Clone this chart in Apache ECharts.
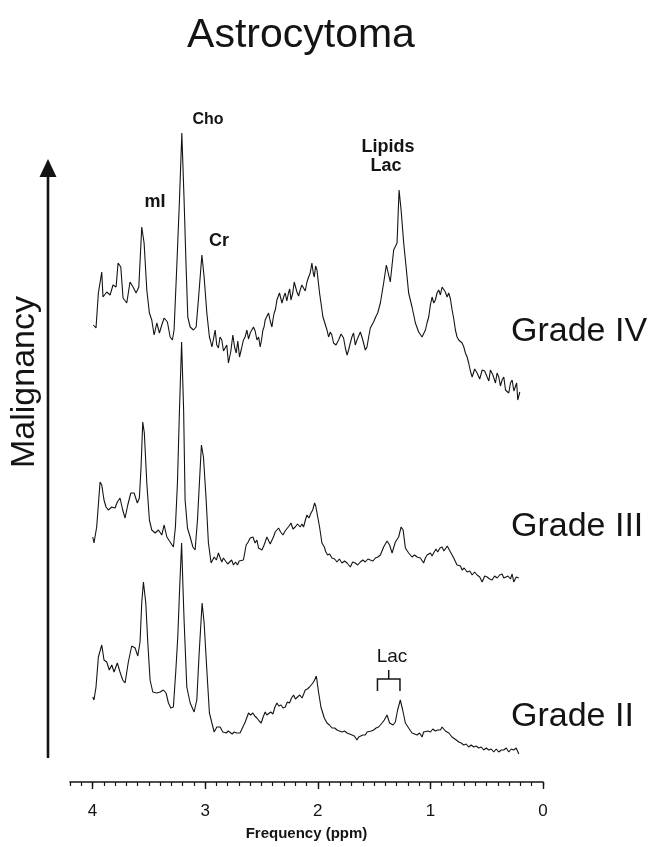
<!DOCTYPE html>
<html>
<head>
<meta charset="utf-8">
<script src="https://cdn.jsdelivr.net/npm/echarts@6/dist/echarts.min.js"></script>
<style>
  html, body { margin: 0; padding: 0; background: #fff; }
  #chart { width: 655px; height: 847px; }
</style>
</head>
<body>
<div id="chart"></div>
<script>
// MR spectra of astrocytoma grades: [chemical shift (ppm), signal intensity]
const gradeIV = [
  [3.993,72],[3.969,69],[3.948,104],[3.918,125],[3.907,100],[3.874,105],[3.844,102],[3.818,112],[3.791,110],
  [3.773,134],[3.749,130],[3.729,99],[3.696,94],[3.667,115],[3.640,110],[3.613,104],[3.589,110],[3.563,170],
  [3.542,154],[3.518,107],[3.495,84],[3.474,77],[3.453,62],[3.429,74],[3.406,64],[3.385,72],[3.364,79],
  [3.335,75],[3.311,60],[3.291,57],[3.276,67],[3.252,130],[3.228,197],[3.207,264],[3.187,197],[3.169,130],
  [3.154,80],[3.133,70],[3.104,67],[3.080,70],[3.060,97],[3.029,142],[3.009,120],[2.985,84],[2.962,60],
  [2.952,56],[2.940,50],[2.926,58],[2.911,67],[2.897,52],[2.882,49],[2.868,60],[2.852,57],[2.837,46],
  [2.822,44],[2.808,52],[2.793,34],[2.773,45],[2.754,62],[2.739,50],[2.724,44],[2.710,56],[2.695,40],
  [2.678,48],[2.660,57],[2.645,60],[2.629,67],[2.615,58],[2.600,64],[2.585,63],[2.571,70],[2.556,66],
  [2.540,57],[2.525,60],[2.511,50],[2.498,58],[2.487,67],[2.477,70],[2.467,77],[2.452,78],[2.437,84],
  [2.422,76],[2.407,70],[2.397,78],[2.387,84],[2.375,88],[2.363,97],[2.352,96],[2.340,104],[2.329,99],
  [2.318,94],[2.303,100],[2.289,104],[2.275,96],[2.260,104],[2.249,108],[2.238,97],[2.222,104],[2.209,115],
  [2.197,110],[2.185,105],[2.170,101],[2.156,107],[2.141,112],[2.126,110],[2.111,106],[2.096,115],[2.081,120],
  [2.067,124],[2.052,134],[2.040,124],[2.031,120],[2.019,131],[2.007,127],[1.984,104],[1.954,80],[1.918,67],
  [1.904,60],[1.889,65],[1.875,62],[1.860,54],[1.838,52],[1.815,57],[1.793,63],[1.771,59],[1.755,49],
  [1.740,42],[1.726,47],[1.711,54],[1.697,60],[1.682,64],[1.667,52],[1.652,57],[1.637,61],[1.622,65],
  [1.608,60],[1.593,54],[1.578,47],[1.563,50],[1.548,60],[1.533,69],[1.519,72],[1.504,75],[1.486,80],
  [1.468,84],[1.444,94],[1.415,114],[1.391,132],[1.356,115],[1.326,147],[1.296,154],[1.278,207],[1.260,187],
  [1.237,154],[1.213,127],[1.193,104],[1.163,90],[1.133,74],[1.104,65],[1.089,63],[1.074,60],[1.059,58],
  [1.044,67],[1.030,74],[1.015,80],[1.000,92],[0.985,100],[0.970,94],[0.956,97],[0.941,104],[0.926,107],
  [0.911,102],[0.896,110],[0.881,112],[0.867,105],[0.852,100],[0.837,104],[0.822,98],[0.807,87],[0.792,78],
  [0.778,67],[0.763,60],[0.748,57],[0.733,56],[0.718,54],[0.703,50],[0.689,44],[0.674,40],[0.660,34],
  [0.645,26],[0.629,20],[0.607,28],[0.585,24],[0.562,18],[0.540,27],[0.518,26],[0.496,20],[0.481,16],
  [0.467,27],[0.445,22],[0.422,14],[0.408,24],[0.393,20],[0.378,11],[0.363,17],[0.348,20],[0.333,7],
  [0.319,9],[0.304,4],[0.289,14],[0.274,17],[0.259,6],[0.244,7],[0.234,14],[0.224,-3],[0.206,5]
];

const gradeIII = [
  [3.998,45],[3.987,39],[3.963,55],[3.933,100],[3.918,97],[3.898,82],[3.880,75],[3.860,72],[3.829,75],
  [3.800,74],[3.780,80],[3.756,84],[3.732,72],[3.711,64],[3.687,77],[3.660,89],[3.631,89],[3.602,79],
  [3.584,84],[3.569,115],[3.554,160],[3.540,149],[3.518,99],[3.495,62],[3.474,52],[3.444,49],[3.415,52],
  [3.385,47],[3.364,57],[3.340,45],[3.311,40],[3.282,35],[3.264,55],[3.246,99],[3.228,172],[3.209,240],
  [3.191,172],[3.178,82],[3.157,54],[3.133,45],[3.109,35],[3.089,32],[3.068,62],[3.051,99],[3.033,137],
  [3.015,125],[2.991,82],[2.971,39],[2.947,19],[2.920,25],[2.900,22],[2.882,29],[2.866,24],[2.852,20],
  [2.838,24],[2.822,22],[2.800,18],[2.784,19],[2.765,22],[2.748,17],[2.730,20],[2.713,17],[2.698,21],
  [2.683,23],[2.660,22],[2.636,37],[2.618,40],[2.600,44],[2.576,45],[2.556,39],[2.540,42],[2.526,34],
  [2.496,32],[2.480,36],[2.467,40],[2.452,45],[2.437,44],[2.422,38],[2.407,39],[2.390,46],[2.378,50],
  [2.362,48],[2.348,54],[2.330,50],[2.309,47],[2.290,51],[2.274,52],[2.255,56],[2.238,59],[2.220,53],
  [2.200,55],[2.180,58],[2.156,55],[2.140,58],[2.126,55],[2.110,62],[2.096,67],[2.078,64],[2.060,69],
  [2.045,72],[2.028,79],[2.018,76],[2.007,75],[1.984,55],[1.963,39],[1.942,35],[1.928,30],[1.913,27],
  [1.895,28],[1.874,24],[1.850,23],[1.829,20],[1.808,23],[1.785,19],[1.762,21],[1.740,19],[1.725,20],
  [1.711,15],[1.690,20],[1.667,19],[1.645,17],[1.622,20],[1.600,22],[1.578,20],[1.555,23],[1.533,22],
  [1.510,21],[1.489,24],[1.466,25],[1.444,27],[1.415,35],[1.385,41],[1.362,37],[1.340,29],[1.311,40],
  [1.282,45],[1.260,55],[1.242,52],[1.222,34],[1.193,29],[1.178,31],[1.163,25],[1.140,27],[1.118,25],
  [1.104,27],[1.089,24],[1.060,19],[1.045,24],[1.029,27],[1.000,29],[0.985,26],[0.971,29],[0.950,33],
  [0.935,30],[0.915,34],[0.896,35],[0.880,31],[0.867,30],[0.850,36],[0.837,34],[0.822,30],[0.807,27],
  [0.793,24],[0.778,22],[0.763,17],[0.748,15],[0.733,16],[0.718,12],[0.700,14],[0.674,10],[0.650,11],
  [0.629,7],[0.607,10],[0.585,7],[0.562,5],[0.540,0],[0.518,6],[0.496,5],[0.474,3],[0.452,2],
  [0.430,6],[0.407,4],[0.385,7],[0.363,8],[0.348,4],[0.333,2],[0.311,6],[0.289,3],[0.274,8],
  [0.260,0],[0.238,5],[0.215,4]
];

const gradeII = [
  [3.998,55],[3.987,52],[3.969,65],[3.948,95],[3.918,107],[3.898,92],[3.874,90],[3.851,82],[3.829,87],
  [3.809,80],[3.780,89],[3.756,80],[3.732,72],[3.711,69],[3.682,90],[3.652,106],[3.622,104],[3.598,96],
  [3.578,110],[3.563,149],[3.548,170],[3.527,149],[3.509,109],[3.489,72],[3.465,60],[3.429,59],[3.400,60],
  [3.371,62],[3.347,59],[3.326,49],[3.305,44],[3.282,45],[3.260,82],[3.243,115],[3.227,162],[3.209,209],
  [3.196,162],[3.187,132],[3.163,65],[3.133,49],[3.098,40],[3.074,52],[3.053,99],[3.027,149],[3.009,129],
  [2.985,82],[2.962,39],[2.940,29],[2.920,20],[2.896,25],[2.880,23],[2.867,25],[2.843,20],[2.828,22],
  [2.813,19],[2.795,21],[2.778,20],[2.760,18],[2.742,20],[2.720,19],[2.704,21],[2.690,19],[2.674,20],
  [2.644,30],[2.615,39],[2.596,37],[2.576,39],[2.560,36],[2.540,34],[2.520,31],[2.502,29],[2.485,35],
  [2.467,40],[2.452,37],[2.437,39],[2.418,40],[2.398,38],[2.380,45],[2.363,49],[2.345,46],[2.327,47],
  [2.308,44],[2.289,45],[2.270,50],[2.251,49],[2.233,54],[2.215,57],[2.198,53],[2.180,55],[2.160,57],
  [2.140,54],[2.125,58],[2.111,62],[2.092,63],[2.073,65],[2.058,67],[2.043,69],[2.028,72],[2.013,76],
  [1.993,60],[1.972,45],[1.942,34],[1.918,29],[1.896,27],[1.874,24],[1.850,24],[1.829,22],[1.808,21],
  [1.785,20],[1.762,21],[1.740,19],[1.718,18],[1.696,17],[1.675,16],[1.652,12],[1.637,15],[1.622,14],
  [1.600,17],[1.578,17],[1.562,20],[1.548,19],[1.525,21],[1.504,22],[1.482,24],[1.460,25],[1.429,29],
  [1.409,32],[1.385,37],[1.362,29],[1.332,27],[1.311,30],[1.291,42],[1.267,52],[1.246,42],[1.222,29],
  [1.193,24],[1.178,22],[1.163,19],[1.140,18],[1.118,17],[1.096,19],[1.074,15],[1.060,20],[1.044,20],
  [1.022,21],[1.000,20],[0.978,23],[0.956,21],[0.935,22],[0.911,22],[0.896,25],[0.882,24],[0.867,21],
  [0.852,20],[0.836,19],[0.822,17],[0.808,15],[0.793,14],[0.770,12],[0.748,10],[0.726,9],[0.704,7],
  [0.682,8],[0.660,5],[0.637,7],[0.615,5],[0.593,6],[0.571,4],[0.548,5],[0.526,2],[0.504,4],
  [0.482,2],[0.460,3],[0.437,0],[0.415,3],[0.393,0],[0.370,2],[0.349,2],[0.326,4],[0.304,0],
  [0.282,3],[0.260,2],[0.238,4],[0.215,-2]
];

// vertical stacking of the three spectra (intensity units)
const spectra = [
  { name: 'Grade IV',  data: gradeIV,  offset: 385 },
  { name: 'Grade III', data: gradeIII, offset: 200 },
  { name: 'Grade II',  data: gradeII,  offset: 30 }
];

const majorTicks = [0, 1, 2, 3, 4];
const lacBracket = { left: 1.47, right: 1.27 };

const FONT = '"Liberation Sans", Arial, Helvetica, sans-serif';
const INK = '#141414';

const chart = echarts.init(document.getElementById('chart'), null, { renderer: 'canvas' });

const series = spectra.map(s => ({
  name: s.name,
  type: 'line',
  showSymbol: false,
  symbol: 'none',
  animation: false,
  lineStyle: { color: INK, width: 1.1 },
  data: s.data.slice().sort((a, b) => b[0] - a[0]).map(p => [p[0], p[1] + s.offset])
}));

function label(id, x, y, text, size, weight, align) {
  return {
    id: id, type: 'text', x: x, y: y,
    style: { text: text, fontFamily: FONT, fontSize: size, fontWeight: weight || 'normal', fill: INK, align: align || 'center', verticalAlign: 'middle' }
  };
}

const option = {
  backgroundColor: '#fff',
  animation: false,
  grid: { left: 70, right: 112, top: 100, bottom: 65 },
  xAxis: [
    {
      type: 'value', min: 0, max: 4.2, interval: 0.1, inverse: true,
      axisLine: { show: true, lineStyle: { color: INK, width: 1.6 } },
      axisTick: { show: true, length: 4, lineStyle: { color: INK, width: 1.2 } },
      axisLabel: {
        show: true, interval: 0, margin: 21,
        fontFamily: FONT, fontSize: 17, color: INK,
        formatter: v => (Math.abs(v - Math.round(v)) < 1e-6 ? String(Math.round(v)) : '')
      },
      splitLine: { show: false },
      name: 'Frequency (ppm)', nameLocation: 'middle', nameGap: 44,
      nameTextStyle: { fontFamily: FONT, fontSize: 15, fontWeight: 'bold', color: INK }
    },
    {
      type: 'value', min: 0, max: 4.2, inverse: true, position: 'bottom', gridIndex: 0,
      axisLine: { show: false },
      axisTick: { show: true, length: 7, customValues: majorTicks, lineStyle: { color: INK, width: 1.4 } },
      axisLabel: { show: false },
      splitLine: { show: false }
    }
  ],
  yAxis: { type: 'value', min: 0, max: 682, show: false, splitLine: { show: false } },
  series: series,
  graphic: [
    label('title', 301, 36, 'Astrocytoma', 41),
    // malignancy arrow
    { id: 'arrowShaft', type: 'line', shape: { x1: 48, y1: 758, x2: 48, y2: 172 }, style: { stroke: INK, lineWidth: 2.6 } },
    { id: 'arrowHead', type: 'polygon', shape: { points: [[48, 159], [39.5, 177], [56.5, 177]] }, style: { fill: INK } },
    Object.assign(label('malignancy', 25, 382, 'Malignancy', 34), { rotation: Math.PI / 2 }),
    // grade labels
    label('g4', 511, 332, 'Grade IV', 34, 'normal', 'left'),
    label('g3', 511, 527, 'Grade III', 34, 'normal', 'left'),
    label('g2', 511, 717, 'Grade II', 34, 'normal', 'left'),
    // metabolite labels
    label('cho', 208, 120, 'Cho', 16, 'bold'),
    label('mi', 155, 202, 'mI', 18, 'bold'),
    label('cr', 219, 241, 'Cr', 18, 'bold'),
    label('lipids', 388, 147, 'Lipids', 18, 'bold'),
    label('lac4', 386, 166, 'Lac', 18, 'bold'),
    label('lac2', 392, 657, 'Lac', 19)
  ]
};

chart.setOption(option);

// bracket over the lactate doublet in the Grade II spectrum, anchored to the ppm scale
const yTop = 679;
const pL = chart.convertToPixel({ xAxisIndex: 0 }, lacBracket.left);
const pR = chart.convertToPixel({ xAxisIndex: 0 }, lacBracket.right);
const pM = (pL + pR) / 2;
chart.setOption({
  graphic: [
    { id: 'lacBracket', type: 'polyline', shape: { points: [[pL, yTop + 12], [pL, yTop], [pR, yTop], [pR, yTop + 12]] }, style: { stroke: INK, lineWidth: 1.5, fill: null } },
    { id: 'lacStem', type: 'line', shape: { x1: pM, y1: yTop, x2: pM, y2: yTop - 9 }, style: { stroke: INK, lineWidth: 1.5 } }
  ]
});
</script>
</body>
</html>
